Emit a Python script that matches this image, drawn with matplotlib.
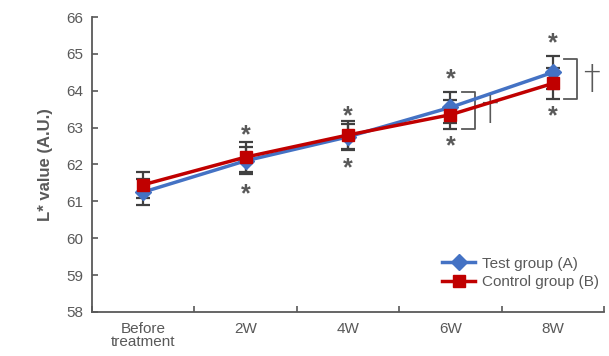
import numpy as np
import matplotlib
matplotlib.use("Agg")
import matplotlib.pyplot as plt

# Data
categories = ["Before\ntreatment", "2W", "4W", "6W", "8W"]
test_mean = [61.25, 62.10, 62.75, 63.55, 64.50]
test_err = [0.35, 0.37, 0.35, 0.43, 0.44]
ctrl_mean = [61.45, 62.20, 62.80, 63.35, 64.20]
ctrl_err = [0.35, 0.40, 0.38, 0.40, 0.43]
star_above = [None, 62.80, 63.30, 64.30, 65.30]
star_below = [None, 61.20, 61.90, 62.50, 63.30]

grey = "#595959"
blue = "#4472C4"
red = "#C00000"

plt.rcParams["font.family"] = ["Liberation Sans", "DejaVu Sans"]

fig = plt.figure(figsize=(6.09, 3.56), dpi=100)
ax = fig.add_axes([0.151, 0.124, 0.841, 0.828])

x = np.arange(len(categories))

# error bars
ax.errorbar(x, test_mean, yerr=test_err, fmt="none", ecolor="#404040",
            elinewidth=1.6, capsize=5, capthick=1.6, zorder=2)
ax.errorbar(x, ctrl_mean, yerr=ctrl_err, fmt="none", ecolor="#404040",
            elinewidth=1.6, capsize=5, capthick=1.6, zorder=2)

# lines
ax.plot(x, test_mean, color=blue, linewidth=2.5, marker="D", markersize=8,
        label="Test group (A)", zorder=3)
ax.plot(x, ctrl_mean, color=red, linewidth=2.5, marker="s", markersize=9,
        label="Control group (B)", zorder=4)

# significance stars
for i in range(len(categories)):
    if star_above[i] is not None:
        ax.text(x[i], star_above[i], "*", ha="center", va="center",
                fontsize=18, color=grey, fontweight="bold")
        ax.text(x[i], star_below[i], "*", ha="center", va="center",
                fontsize=18, color=grey, fontweight="bold")

# brackets with dagger between groups
for i, (y0, y1) in [(3, (62.96, 63.98)), (4, (63.77, 64.85))]:
    bx0 = x[i] + 0.11
    bx1 = x[i] + 0.24
    ax.plot([bx0, bx1, bx1, bx0], [y1, y1, y0, y0], color=grey,
            linewidth=1.3, zorder=2)
    ax.text(x[i] + 0.38, (y0 + y1) / 2, "\u2020", ha="center", va="center",
            fontsize=24, color=grey, family="DejaVu Sans",
            fontweight="ultralight")

ax.set_xlim(-0.5, len(categories) - 0.5)
ax.set_ylim(58, 66)
ax.set_yticks(np.arange(58, 67, 1))

ax.set_xticks(np.arange(-0.5, len(categories), 1))
ax.set_xticklabels([])
ax.set_xticks(x, minor=True)
ax.set_xticklabels(categories, minor=True, linespacing=0.95)
ax.tick_params(axis="x", which="minor", length=0, pad=7, labelsize=11,
               colors=grey)
ax.tick_params(axis="x", which="major", direction="in", length=4,
               color=grey, width=1.2)
ax.tick_params(axis="y", direction="in", length=4, color=grey, width=1.2,
               labelsize=11, labelcolor=grey, pad=6)

for side in ["top", "right"]:
    ax.spines[side].set_visible(False)
for side in ["left", "bottom"]:
    ax.spines[side].set_color(grey)
    ax.spines[side].set_linewidth(1.3)

ax.set_ylabel("L* value (A.U.)", fontsize=12, color=grey, labelpad=10,
              fontweight="bold")

ax.legend(loc="lower right", bbox_to_anchor=(1.01, 0.04), frameon=False,
          fontsize=11, labelcolor=grey, handlelength=2.2, handletextpad=0.4,
          borderpad=0.2, labelspacing=0.3)

fig.savefig("out.png", dpi=100, facecolor="white")
